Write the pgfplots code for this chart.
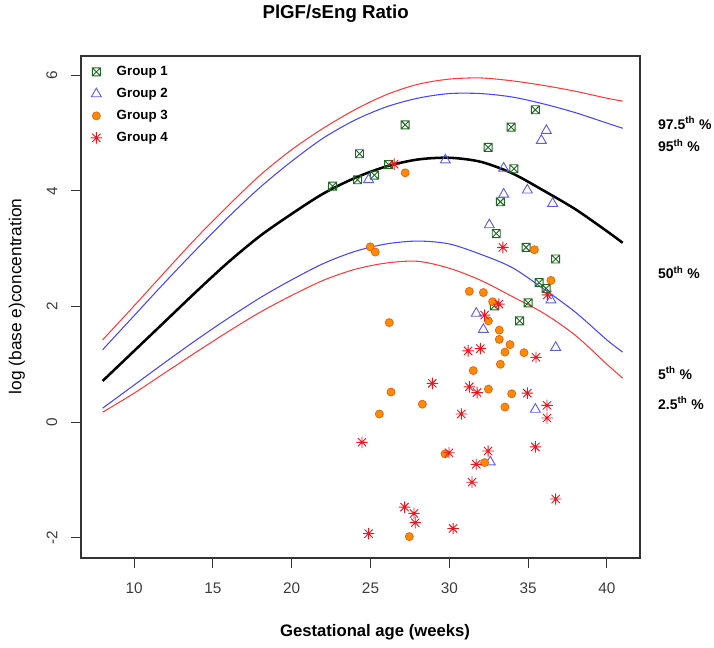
\documentclass[border=0pt]{standalone}
\usepackage{pgfplots}
\pgfplotsset{compat=1.18}
\usepackage{fontspec}
\setmainfont{Liberation Sans}
\definecolor{gOne}{RGB}{30,105,35}
\definecolor{gTwo}{RGB}{95,95,225}
\definecolor{gThreeF}{RGB}{255,140,0}
\definecolor{gThreeD}{RGB}{235,100,20}
\definecolor{gFour}{RGB}{240,20,30}
\definecolor{cRed}{RGB}{255,60,60}
\definecolor{cBlue}{RGB}{70,70,255}
\definecolor{tickgray}{RGB}{60,60,60}
\pgfdeclareplotmark{sqx}{%
  \pgfpathrectangle{\pgfpoint{-\pgfplotmarksize}{-\pgfplotmarksize}}{\pgfpoint{2\pgfplotmarksize}{2\pgfplotmarksize}}%
  \pgfpathmoveto{\pgfpoint{-\pgfplotmarksize}{-\pgfplotmarksize}}\pgfpathlineto{\pgfpoint{\pgfplotmarksize}{\pgfplotmarksize}}%
  \pgfpathmoveto{\pgfpoint{-\pgfplotmarksize}{\pgfplotmarksize}}\pgfpathlineto{\pgfpoint{\pgfplotmarksize}{-\pgfplotmarksize}}%
  \pgfusepathqstroke}
\pgfdeclareplotmark{rstar}{%
  \pgfpathmoveto{\pgfpoint{-\pgfplotmarksize}{0pt}}\pgfpathlineto{\pgfpoint{\pgfplotmarksize}{0pt}}%
  \pgfpathmoveto{\pgfpoint{0pt}{-\pgfplotmarksize}}\pgfpathlineto{\pgfpoint{0pt}{\pgfplotmarksize}}%
  \pgfpathmoveto{\pgfpoint{-0.72\pgfplotmarksize}{-0.72\pgfplotmarksize}}\pgfpathlineto{\pgfpoint{0.72\pgfplotmarksize}{0.72\pgfplotmarksize}}%
  \pgfpathmoveto{\pgfpoint{-0.72\pgfplotmarksize}{0.72\pgfplotmarksize}}\pgfpathlineto{\pgfpoint{0.72\pgfplotmarksize}{-0.72\pgfplotmarksize}}%
  \pgfusepathqstroke}
\begin{document}
\begin{tikzpicture}
\path[use as bounding box] (0,0) rectangle (535.5pt,486pt);
\begin{axis}[
  at={(60.75pt,67.5pt)}, anchor=south west,
  scale only axis, width=419.25pt, height=376.5pt,
  xmin=6.63, xmax=42.1, ymin=-2.35, ymax=6.33,
  xtick={10,15,20,25,30,35,40}, ytick={-2,0,2,4,6},
  xtick pos=left, ytick pos=left, tick align=outside,
  major tick length=7.5pt,
  axis line style={draw=black!80, line width=0.8pt},
  tick style={draw=black!80, line width=0.8pt},
  /pgf/number format/assume math mode=true,
  ticklabel style={font=\fontsize{11.5}{13}\selectfont, text=tickgray},
  xticklabel style={yshift=-7.5pt},
  yticklabel style={rotate=90, anchor=south, yshift=6.75pt},
  xlabel={Gestational age (weeks)},
  ylabel={log (base e)concentration},
  xlabel style={font=\bfseries\fontsize{12.5}{14}\selectfont, at={(axis description cs:0.526,-0.147)}, anchor=center},
  ylabel style={font=\fontsize{13}{15}\selectfont, at={(axis description cs:-0.1145,0.521)}, anchor=center, rotate=0},
  clip=false,
  legend style={at={(axis description cs:0,1)}, anchor=north west, draw=none, fill=none,
    font=\bfseries\fontsize{10}{12}\selectfont, row sep=4pt, inner xsep=7pt, inner ysep=5.5pt,
    /tikz/every odd column/.append style={column sep=9pt}},
  legend cell align=left,
]
% percentile curves
\addplot[cRed, line width=0.8pt, smooth, forget plot] coordinates {
(8,1.42)(10,2.01)(12,2.61)(14,3.2)(16,3.75)(18,4.27)(20,4.71)(22,5.08)(24,5.4)(26,5.66)(28,5.84)(30,5.93)(32,5.95)(34,5.9)(36,5.82)(38,5.72)(40,5.6)(41,5.55)};
\addplot[cBlue, line width=0.8pt, smooth, forget plot] coordinates {
(8,1.25)(10,1.84)(12,2.43)(14,3.0)(16,3.55)(18,4.06)(20,4.51)(22,4.91)(24,5.22)(26,5.45)(28,5.6)(30,5.68)(32,5.68)(34,5.62)(36,5.5)(38,5.35)(40,5.17)(41,5.08)};
\addplot[black, line width=1.9pt, smooth, forget plot] coordinates {
(8,0.71)(10,1.23)(12,1.75)(14,2.27)(16,2.77)(18,3.22)(20,3.6)(22,3.95)(24,4.22)(26,4.42)(28,4.54)(30,4.57)(32,4.5)(34,4.3)(36,4.0)(38,3.68)(40,3.3)(41,3.1)};
\addplot[cBlue, line width=0.8pt, smooth, forget plot] coordinates {
(8,0.24)(10,0.64)(12,1.04)(14,1.43)(16,1.8)(18,2.15)(20,2.46)(22,2.74)(24,2.95)(26,3.08)(28,3.13)(30,3.08)(32,2.9)(34,2.67)(36,2.3)(38,1.9)(40,1.42)(41,1.21)};
\addplot[cRed, line width=0.8pt, smooth, forget plot] coordinates {
(8,0.17)(10,0.5)(12,0.86)(14,1.22)(16,1.57)(18,1.9)(20,2.19)(22,2.45)(24,2.64)(26,2.75)(28,2.78)(30,2.66)(32,2.45)(34,2.17)(36,1.88)(38,1.5)(40,1.0)(41,0.76)};
% groups
\addplot[only marks, mark=sqx, mark size=3pt, gOne, line width=0.7pt] coordinates {
(35.46,5.40)(27.2,5.14)(33.92,5.10)(24.3,4.64)(32.46,4.75)(26.15,4.45)(34.1,4.38)(24.18,4.19)(25.24,4.27)(22.6,4.08)(33.24,3.81)(32.98,3.26)(34.87,3.02)(36.75,2.82)(35.7,2.41)(36.14,2.31)(35.0,2.06)(32.86,2.01)(34.46,1.75)};
\addlegendentry{Group 1}
\addplot[only marks, mark=triangle, mark size=4.3pt, gTwo, line width=0.7pt] coordinates {
(36.16,5.04)(35.84,4.87)(29.75,4.53)(33.45,4.39)(24.88,4.19)(33.45,3.94)(34.95,4.01)(36.56,3.78)(32.54,3.41)(36.45,2.11)(31.71,1.88)(32.16,1.60)(36.75,1.29)(35.46,0.22)(32.6,-0.69)};
\addlegendentry{Group 2}
\addplot[only marks, mark=*, mark size=3pt, draw=gThreeD, fill=gThreeF, line width=0.6pt] coordinates {
(27.2,4.31)(24.98,3.03)(25.3,2.94)(35.4,2.98)(36.45,2.45)(31.27,2.26)(32.16,2.24)(32.75,2.08)(26.19,1.72)(32.48,1.75)(33.17,1.59)(33.17,1.43)(33.85,1.34)(33.53,1.21)(34.74,1.20)(33.24,1.00)(31.52,0.89)(26.3,0.52)(32.48,0.57)(33.96,0.49)(28.29,0.31)(33.53,0.26)(25.56,0.14)(29.73,-0.55)(32.24,-0.70)(27.46,-1.98)};
\addlegendentry{Group 3}
\addplot[only marks, mark=rstar, mark size=4.3pt, gFour, line width=0.7pt] coordinates {
(26.5,4.46)(33.4,3.02)(36.22,2.20)(33.15,2.04)(32.24,1.85)(31.19,1.23)(31.97,1.27)(35.5,1.12)(28.92,0.67)(31.27,0.61)(31.76,0.51)(34.95,0.50)(36.2,0.29)(36.2,0.07)(30.76,0.14)(24.46,-0.35)(29.98,-0.53)(32.46,-0.50)(31.71,-0.73)(35.46,-0.43)(31.44,-1.04)(36.75,-1.33)(27.16,-1.47)(27.76,-1.58)(27.84,-1.74)(30.24,-1.84)(24.88,-1.93)};
\addlegendentry{Group 4}
% right-hand percentile labels
\begin{scope}[every node/.style={anchor=west, font=\bfseries\fontsize{10.5}{12}\selectfont}]
\node at (axis cs:42.95,5.17) {97.5\textsuperscript{th} \%};
\node at (axis cs:42.95,4.78) {95\textsuperscript{th} \%};
\node at (axis cs:42.95,2.58) {50\textsuperscript{th} \%};
\node at (axis cs:42.95,0.85) {5\textsuperscript{th} \%};
\node at (axis cs:42.95,0.33) {2.5\textsuperscript{th} \%};
\end{scope}
\node[font=\bfseries\fontsize{14}{16}\selectfont, anchor=center] at (axis cs:22.79,7.06) {PlGF/sEng Ratio};
\end{axis}
\end{tikzpicture}
\end{document}
